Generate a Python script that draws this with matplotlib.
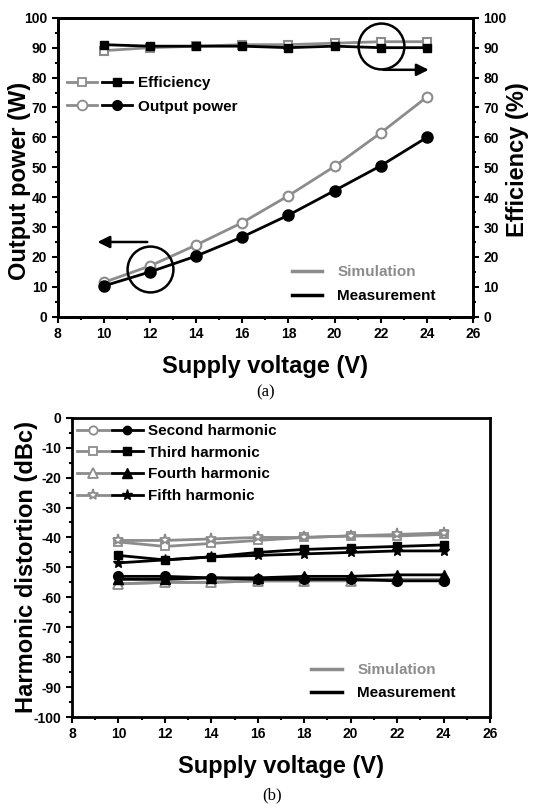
import numpy as np
import matplotlib.pyplot as plt
from matplotlib.legend_handler import HandlerTuple
from matplotlib.lines import Line2D
from matplotlib.ticker import MultipleLocator

plt.rcParams['font.family'] = ['Liberation Sans', 'DejaVu Sans']
plt.rcParams['font.weight'] = 'bold'
plt.rcParams['axes.unicode_minus'] = False

# supply voltage (V)
volt = [10, 12, 14, 16, 18, 20, 22, 24]

# panel (a)
eff_sim = [89.0, 90.0, 90.5, 91.0, 91.0, 91.5, 92.0, 92.0]
eff_meas = [91.0, 90.5, 90.5, 90.5, 90.0, 90.5, 90.0, 90.0]
pout_sim = [11.5, 17.0, 24.0, 31.5, 40.5, 50.3, 61.5, 73.5]
pout_meas = [10.3, 15.0, 20.3, 26.7, 34.0, 42.2, 50.5, 60.0]

# panel (b)
h2_sim = [-55.5, -55.0, -55.0, -54.5, -54.5, -54.0, -54.0, -54.0]
h2_meas = [-53.0, -53.0, -53.5, -54.0, -54.0, -54.0, -54.5, -54.5]
h3_sim = [-41.5, -43.0, -42.0, -41.0, -40.0, -39.5, -39.5, -39.0]
h3_meas = [-46.0, -47.5, -46.5, -45.0, -44.0, -43.5, -43.0, -42.5]
h4_sim = [-55.5, -55.0, -55.0, -54.5, -54.5, -54.5, -54.0, -54.0]
h4_meas = [-54.0, -54.0, -53.5, -53.5, -53.0, -53.0, -52.5, -52.5]
h5_sim = [-41.0, -41.0, -40.5, -40.0, -40.0, -39.5, -39.0, -38.5]
h5_meas = [-48.5, -47.5, -46.5, -46.0, -45.5, -45.0, -44.5, -44.5]

gray = '#8c8c8c'
lw = 2.0
lab = 17

def style(ax, lab_size=10):
    for s in ax.spines.values():
        s.set_linewidth(2)
    ax.tick_params(which='both', direction='out', width=1.5, labelsize=lab_size)
    ax.tick_params(which='major', length=4)
    ax.tick_params(which='minor', length=2.5)
    for t in ax.get_xticklabels() + ax.get_yticklabels():
        t.set_fontweight('bold')

def pair(m, ms_s=6, ms_m=6):
    s = Line2D([], [], color=gray, marker=m, mfc='white', mec=gray, mew=1.3, ms=ms_s, lw=lw)
    k = Line2D([], [], color='k', marker=m, mfc='k', ms=ms_m, lw=lw)
    return (s, k)

def simmeas():
    return [Line2D([], [], color=gray, lw=2.5), Line2D([], [], color='k', lw=2.5)]

fig = plt.figure(figsize=(5.45, 8.08), dpi=100)

# ---------- (a)
ax1 = fig.add_axes([0.106, 0.608, 0.762, 0.370])
ax2 = ax1.twinx()
ax1.plot(volt, pout_sim, '-o', color=gray, mfc='white', mec=gray, mew=1.5, ms=7, lw=lw)
ax1.plot(volt, pout_meas, '-o', color='k', mfc='k', ms=8, lw=lw)
ax2.plot(volt, eff_sim, '-s', color=gray, mfc='white', mec=gray, mew=1.5, ms=6, lw=lw)
ax2.plot(volt, eff_meas, '-s', color='k', mfc='k', ms=6, lw=lw)
for a in (ax1, ax2):
    a.set_xlim(8, 26)
    a.set_ylim(0, 100)
    a.yaxis.set_major_locator(MultipleLocator(10))
    a.yaxis.set_minor_locator(MultipleLocator(5))
ax1.xaxis.set_major_locator(MultipleLocator(2))
ax1.xaxis.set_minor_locator(MultipleLocator(1))
style(ax1)
style(ax2)
ax1.set_xlabel('Supply voltage (V)', fontsize=lab, fontweight='bold', labelpad=10)
ax1.set_ylabel('Output power (W)', fontsize=lab, fontweight='bold')
ax2.set_ylabel('Efficiency (%)', fontsize=lab, fontweight='bold')
ax1.yaxis.set_label_coords(-0.064, 0.455)
ax2.yaxis.set_label_coords(1.08, 0.525)

# annotation circles and arrows
ax1.plot(12, 16, 'o', ms=33, mfc='none', mec='k', mew=1.8)
ax1.annotate('', xy=(9.6, 25), xytext=(12.0, 25),
             arrowprops=dict(arrowstyle='-|>', color='k', lw=1.8, mutation_scale=18))
ax2.plot(22, 90.5, 'o', ms=33, mfc='none', mec='k', mew=1.8)
ax2.annotate('', xy=(24.2, 82.6), xytext=(22.0, 82.6),
             arrowprops=dict(arrowstyle='-|>', color='k', lw=1.8, mutation_scale=18))

leg = ax2.legend([pair('s'), pair('o', 7, 7)], ['Efficiency', 'Output power'],
                 handler_map={tuple: HandlerTuple(ndivide=None, pad=0.3)},
                 loc='upper left', bbox_to_anchor=(-0.01, 0.85), frameon=False,
                 handlelength=4.2, prop={'weight': 'bold', 'size': 11},
                 labelspacing=0.6, handletextpad=0.4)
ax2.add_artist(leg)
leg2 = ax2.legend(simmeas(), ['Simulation', 'Measurement'], loc='lower left',
                  bbox_to_anchor=(0.53, 0.0), frameon=False, handlelength=2.0,
                  prop={'weight': 'bold', 'size': 11}, labelspacing=0.65, handletextpad=1.0)
leg2.get_texts()[0].set_color(gray)
fig.text(0.487, 0.514, '(a)', ha='center', va='center', fontsize=12,
         family='Liberation Serif', fontweight='normal')

# ---------- (b)
ax3 = fig.add_axes([0.132, 0.1126, 0.767, 0.3704])
ax3.plot(volt, h2_sim, '-o', color=gray, mfc='white', mec=gray, mew=1.3, ms=6, lw=lw)
ax3.plot(volt, h4_sim, '-^', color=gray, mfc='white', mec=gray, mew=1.3, ms=7, lw=lw)
ax3.plot(volt, h3_sim, '-s', color=gray, mfc='white', mec=gray, mew=1.3, ms=6, lw=lw)
ax3.plot(volt, h5_sim, '-*', color=gray, mfc='white', mec=gray, mew=1.3, ms=8, lw=lw)
ax3.plot(volt, h2_meas, '-o', color='k', mfc='k', ms=7, lw=lw)
ax3.plot(volt, h3_meas, '-s', color='k', mfc='k', ms=6, lw=lw)
ax3.plot(volt, h4_meas, '-^', color='k', mfc='k', ms=7, lw=lw)
ax3.plot(volt, h5_meas, '-*', color='k', mfc='k', ms=8, lw=lw)
ax3.set_xlim(8, 26)
ax3.set_ylim(-100, 0)
ax3.xaxis.set_major_locator(MultipleLocator(2))
ax3.xaxis.set_minor_locator(MultipleLocator(1))
ax3.yaxis.set_major_locator(MultipleLocator(10))
ax3.yaxis.set_minor_locator(MultipleLocator(5))
style(ax3)
ax3.set_xlabel('Supply voltage (V)', fontsize=lab, fontweight='bold', labelpad=10)
ax3.set_ylabel('Harmonic distortion (dBc)', fontsize=lab, fontweight='bold')
ax3.yaxis.set_label_coords(-0.08, 0.5)

leg3 = ax3.legend([pair('o'), pair('s'), pair('^', 7, 7), pair('*', 8, 8)],
                  ['Second harmonic', 'Third harmonic', 'Fourth harmonic', 'Fifth harmonic'],
                  handler_map={tuple: HandlerTuple(ndivide=None, pad=0.2)},
                  loc='upper left', bbox_to_anchor=(-0.02, 1.025), frameon=False,
                  handlelength=4.3, prop={'weight': 'bold', 'size': 11},
                  labelspacing=0.5, handletextpad=0.3)
ax3.add_artist(leg3)
leg4 = ax3.legend(simmeas(), ['Simulation', 'Measurement'], loc='lower left',
                  bbox_to_anchor=(0.54, 0.01), frameon=False, handlelength=2.0,
                  prop={'weight': 'bold', 'size': 11}, labelspacing=0.6, handletextpad=1.0)
leg4.get_texts()[0].set_color(gray)
fig.text(0.50, 0.016, '(b)', ha='center', va='center', fontsize=12,
         family='Liberation Serif', fontweight='normal')

fig.savefig('out.png', dpi=100)
